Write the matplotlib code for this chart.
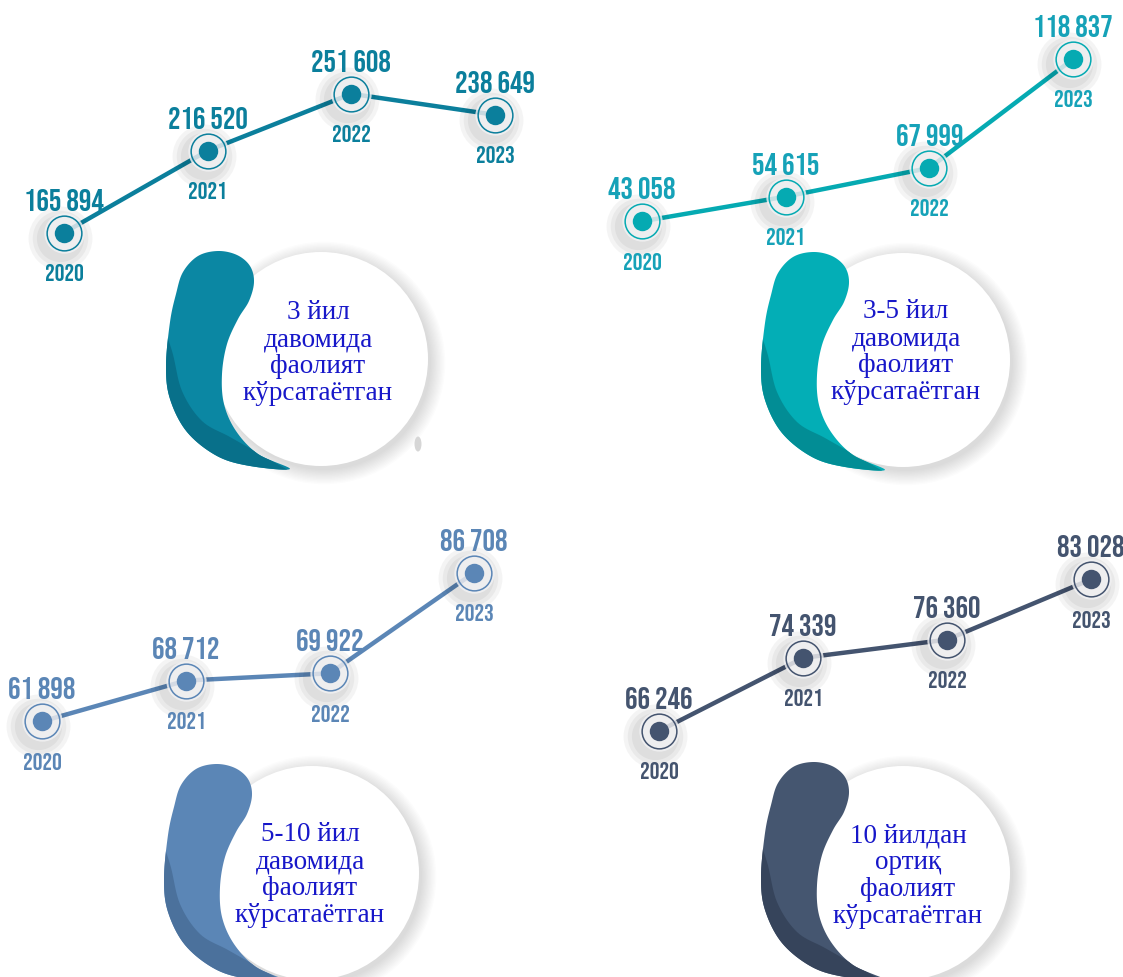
import matplotlib
matplotlib.use('Agg')
import matplotlib.pyplot as plt
import matplotlib.transforms as mtransforms
from matplotlib.patches import Circle, Ellipse, Polygon
import numpy as np

# data
years = ['2020', '2021', '2022', '2023']
vals_3 = [165894, 216520, 251608, 238649]
vals_3_5 = [43058, 54615, 67999, 118837]
vals_5_10 = [61898, 68712, 69922, 86708]
vals_10 = [66246, 74339, 76360, 83028]
titles = ['3 йил\nдавомида\nфаолият\nкўрсатаётган',
          '3-5 йил\nдавомида\nфаолият\nкўрсатаётган',
          '5-10 йил\nдавомида\nфаолият\nкўрсатаётган',
          '10 йилдан\nортиқ\nфаолият\nкўрсатаётган']

W, H = 1123, 978
num_font = ['Bebas Neue', 'Barlow Condensed', 'DejaVu Sans']
txt_font = ['Liberation Serif', 'DejaVu Serif']

# each panel is a transparent full-figure axes; limits put the four points in place
panels = [
    dict(vals=vals_3, line='#0b7f9c', lab='#0b7f9c', drop='#0b87a3', dark='#08708a',
         xlim=(-0.4455, 7.371), ylim=(-293371, 310109),
         circ=(321, 360), anchor=(218, 252), text=(318, 353)),
    dict(vals=vals_3_5, line='#05aab2', lab='#16a2b8', drop='#03aeb6', dark='#028d95',
         xlim=(-4.4686, 3.348), ylim=(-309940, 146920),
         circ=(903, 361), anchor=(813, 253), text=(906, 352)),
    dict(vals=vals_5_10, line='#5b86b6', lab='#5b86b6', drop='#5b86b6', dark='#4b719c',
         xlim=(-0.2917, 7.5069), ylim=(19243, 182450),
         circ=(312, 874), anchor=(216, 765), text=(310, 875)),
    dict(vals=vals_10, line='#44546f', lab='#44546f', drop='#455670', dark='#36445b',
         xlim=(-4.5764, 3.2222), ylim=(39033, 147244),
         circ=(903, 874), anchor=(813, 763), text=(908, 876)),
]

# drop outline relative to the top of its cap (pixels, y down)
drop_pts = [(72, 218), (32, 215), (-1, 205), (-31, 181), (-48, 148), (-52, 115),
            (-48, 71), (-42, 43), (-35, 21), (-20, 5), (0, 0), (19, 4), (32, 15),
            (36, 31), (31, 50), (20, 68), (9, 93), (4, 123), (6, 153), (18, 180),
            (40, 203)]
dark_pts = [(-60, 60), (-46, 100), (-36, 140), (-16, 170), (12, 186), (42, 203),
            (75, 222)]


def smooth(pts, n=10, closed=True):
    P = np.asarray(pts, float)
    if closed:
        P = np.vstack([P[-1], P, P[0], P[1]])
    else:
        P = np.vstack([P[0], P, P[-1]])
    out = []
    for i in range(1, len(P) - 2):
        p0, p1, p2, p3 = P[i - 1], P[i], P[i + 1], P[i + 2]
        for t in np.linspace(0, 1, n, endpoint=False):
            out.append(0.5 * (2 * p1 + (-p0 + p2) * t
                              + (2 * p0 - 5 * p1 + 4 * p2 - p3) * t ** 2
                              + (-p0 + 3 * p1 - 3 * p2 + p3) * t ** 3))
    if not closed:
        out.append(P[-2])
    return np.array(out)


def fmt(v):
    return f'{v:,}'.replace(',', ' ')


fig = plt.figure(figsize=(W / 100, H / 100), dpi=100)
bg = fig.add_axes([0, 0, 1, 1], zorder=0)
bg.set_xlim(0, W)
bg.set_ylim(H, 0)
bg.axis('off')

for p, title in zip(panels, titles):
    cx, cy = p['circ']
    r = 107
    # soft shadow round the white circle
    for i in range(12):
        bg.add_patch(Circle((cx + 3, cy + 4), r + 1.3 * i, color='k', alpha=0.011, lw=0))
    bg.add_patch(Circle((cx, cy), r, color='white', lw=0, zorder=2))
    ax0, ay0 = p['anchor']
    outline = smooth([(ax0 + dx, ay0 + dy) for dx, dy in drop_pts])
    drop = Polygon(outline, closed=True, color=p['drop'], lw=0, zorder=3)
    bg.add_patch(drop)
    inner = smooth([(ax0 + dx, ay0 + dy) for dx, dy in dark_pts], closed=False)
    dark_poly = np.vstack([inner, [(ax0 + 90, ay0 + 260), (ax0 - 90, ay0 + 260), (ax0 - 90, ay0 + 60)]])
    dk = Polygon(dark_poly, closed=True, color=p['dark'], lw=0, zorder=4)
    bg.add_patch(dk)
    dk.set_clip_path(drop)
    tx, ty = p['text']
    bg.text(tx, ty, title, ha='center', va='center', multialignment='center',
            fontsize=19.5, color='#1717c9', family=txt_font, linespacing=1.1, zorder=6)

bg.add_patch(Ellipse((418, 445), 7, 15, color='#d6d6d6', lw=0, zorder=2))

x = np.arange(len(years))
for p in panels:
    ax = fig.add_axes([0, 0, 1, 1], zorder=2)
    ax.patch.set_alpha(0)
    ax.axis('off')
    ax.set_xlim(*p['xlim'])
    ax.set_ylim(*p['ylim'])
    c = p['line']
    ax.plot(x, p['vals'], color=c, lw=3.2, solid_capstyle='round', zorder=2)
    shadow = mtransforms.offset_copy(ax.transData, fig=fig, x=-4, y=-5, units='dots')
    for ms in (46, 40, 34):
        ax.plot(x, p['vals'], 'o', ms=ms, mfc='k', mec='none', alpha=0.045,
                transform=shadow, zorder=2.5)
    ax.plot(x, p['vals'], 'o', ms=29, mfc='#f2f2f4', mec='none', alpha=0.82, zorder=3)
    ax.plot(x, p['vals'], 'o', ms=25, mfc='none', mec=c, mew=1.1, zorder=4)
    ax.plot(x, p['vals'], 'o', ms=14, mfc=c, mec='none', zorder=5)
    for xi, v, yr in zip(x, p['vals'], years):
        ax.annotate(fmt(v), (xi, v), xytext=(0, 16.5), textcoords='offset points',
                    ha='center', va='baseline', fontsize=22.5, fontweight='bold',
                    color=p['lab'], family=num_font)
        ax.annotate(yr, (xi, v), xytext=(0, -34), textcoords='offset points',
                    ha='center', va='baseline', fontsize=17.5, fontweight='bold',
                    color=p['lab'], family=num_font)

fig.savefig('out.png', dpi=100)
